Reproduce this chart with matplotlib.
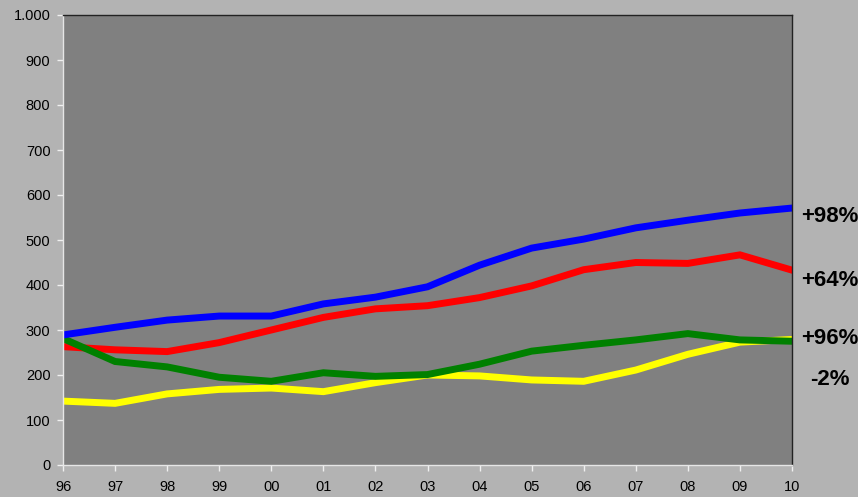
import matplotlib.pyplot as plt
from matplotlib.ticker import FuncFormatter

plt.rcParams['font.family'] = ['Liberation Sans', 'DejaVu Sans']

# years 1996..2010, two-digit labels
years = ['96', '97', '98', '99', '00', '01', '02', '03', '04', '05', '06', '07', '08', '09', '10']

blue = [289, 306, 322, 331, 331, 358, 373, 396, 444, 482, 502, 527, 544, 560, 571]
red = [263, 256, 252, 272, 300, 328, 347, 354, 372, 398, 434, 450, 448, 467, 433]
green = [281, 230, 218, 195, 186, 205, 197, 201, 224, 253, 266, 278, 292, 278, 275]
yellow = [142, 137, 158, 168, 171, 163, 183, 200, 198, 189, 186, 211, 246, 273, 279]

# end-of-line change labels and their heights
changes = ['+98%', '+64%', '+96%', '-2%']
label_y = [553, 409, 282, 189]

fig = plt.figure(figsize=(8.58, 4.97), dpi=100, facecolor='#b3b3b3')
ax = fig.add_axes([63 / 858, 1 - 465 / 497, 729 / 858, 450 / 497])
ax.set_facecolor('#808080')

x = list(range(len(years)))
lw = 5
ax.plot(x, yellow, color='#ffff00', lw=lw, solid_joinstyle='miter')
ax.plot(x, red, color='#ff0000', lw=lw, solid_joinstyle='miter')
ax.plot(x, green, color='#008000', lw=lw, solid_joinstyle='miter')
ax.plot(x, blue, color='#0000ff', lw=lw, solid_joinstyle='miter')

ax.set_xlim(0, len(years) - 1)
ax.set_ylim(0, 1000)
ax.set_xticks(x)
ax.set_xticklabels(years)
ax.set_yticks(range(0, 1001, 100))
ax.yaxis.set_major_formatter(FuncFormatter(lambda v, p: f'{int(v):,}'.replace(',', '.')))

ax.tick_params(colors='#f0f0f0', labelcolor='black', labelsize=10.5, length=4, width=1, direction='out')
ax.tick_params(axis='x', pad=7)
ax.tick_params(axis='y', pad=5)

for side in ['top', 'right']:
    ax.spines[side].set_color('#222222')
    ax.spines[side].set_linewidth(1)
for side in ['left', 'bottom']:
    ax.spines[side].set_color('#e6e6e6')
    ax.spines[side].set_linewidth(1)

for txt, ly in zip(changes, label_y):
    ax.annotate(txt, xy=(len(years) - 1, ly), xytext=(27, 0), textcoords='offset points',
                ha='center', va='center', fontsize=16, fontweight='bold',
                annotation_clip=False)

fig.savefig('out.png', dpi=100, facecolor=fig.get_facecolor())
